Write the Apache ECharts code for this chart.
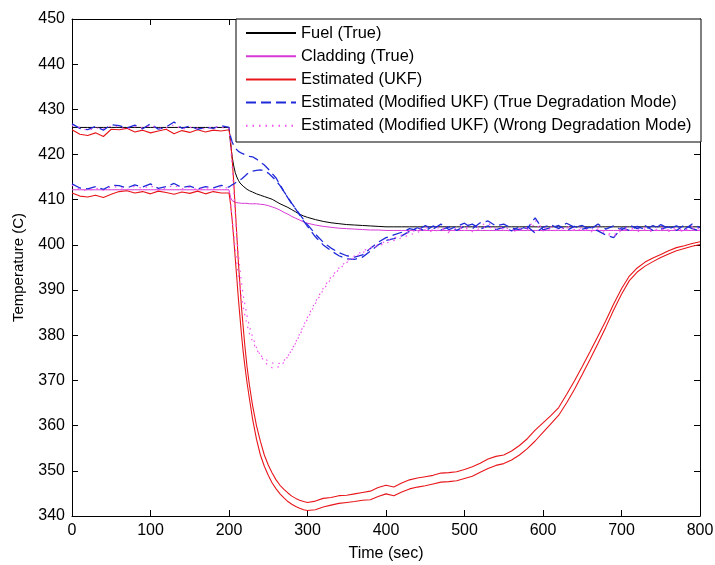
<!DOCTYPE html>
<html>
<head>
<meta charset="utf-8">
<script src="https://cdn.jsdelivr.net/npm/echarts@6/dist/echarts.min.js"></script>
<style>
html,body{margin:0;padding:0;background:#fff;}
#chart{width:715px;height:565px;}
</style>
</head>
<body>
<div id="chart"></div>
<script>
// Time grid (sec)
var T = [0,10,20,30,40,50,60,70,80,90,100,110,120,130,140,150,160,170,180,190,
  200,202,204,206,208,210,212,214,216,218,220,223,226,
  230,235,240,245,250,255,260,265,270,275,280,285,290,295,300,
  310,320,330,340,350,360,370,380,390,400,410,420,430,440,450,460,470,480,490,500,
  510,520,530,540,550,560,570,580,590,600,610,620,630,640,650,660,670,680,690,700,
  710,720,730,740,750,760,770,780,790,800];

var xTicks = {min:0, max:800, step:100};
var yTicks = {min:340, max:450, step:10};

var legendNames = ['Fuel (True)','Cladding (True)','Estimated (UKF)',
  'Estimated (Modified UKF) (True Degradation Mode)',
  'Estimated (Modified UKF) (Wrong Degradation Mode)'];

// Fuel (True)
var fuelTrue = [426,426,426,426,426,426,426,426,426,426,426,426,426,426,426,426,426,426,426,426,
  426,422.5,419.5,417.5,416,415,414.3,413.7,413.3,413,412.7,412.3,412,
  411.7,411.3,411,410.7,410.4,410.1,409.6,409.1,408.7,408.3,407.8,407.3,406.8,406.4,406.1,
  405.6,405.2,404.9,404.7,404.5,404.4,404.3,404.2,404.1,404,404,404,404,404,404,404,404,404,404,404,
  404,404,404,404,404,404,404,404,404,404,404,404,404,404,404,404,404,404,404,404,
  404,404,404,404,404,404,404,404,404,404];

// Cladding (True)
var cladTrue = [412.2,412.2,412.2,412.2,412.2,412.2,412.2,412.2,412.2,412.2,412.2,412.2,412.2,412.2,412.2,412.2,412.2,412.2,412.2,412.2,
  412.2,410.5,409.8,409.5,409.4,409.3,409.3,409.2,409.2,409.2,409.2,409.2,409.1,
  409.1,409.1,409,408.9,408.7,408.4,408.1,407.7,407.2,406.8,406.3,405.9,405.5,405.1,404.8,
  404.4,404.1,403.9,403.7,403.6,403.5,403.4,403.3,403.3,403.2,403.2,403.2,403.2,403.2,403.2,403.2,403.2,403.2,403.2,403.2,
  403.2,403.2,403.2,403.2,403.2,403.2,403.2,403.2,403.2,403.2,403.2,403.2,403.2,403.2,403.2,403.2,403.2,403.2,403.2,403.2,
  403.2,403.2,403.2,403.2,403.2,403.2,403.2,403.2,403.2,403.2];

// Estimated (UKF) - fuel estimate
var ukfFuel = [425.5,424.5,424.2,424.8,424,425.6,425.5,425.8,425,425.4,424.8,425.2,425.6,424.6,425.3,424.9,425.5,425,425.4,425.2,
  425.5,423,419,414,408,402,396,391,386,382,378,373,369,
  364.5,360,356.5,353.5,351.3,349.5,348,346.8,345.9,345.1,344.4,343.9,343.5,343.2,343,
  343.3,343.9,344.1,344.5,344.6,344.9,345.2,345.5,346.3,346.8,346.4,347.3,348,348.4,348.7,349,349.5,349.6,349.8,350.3,
  350.9,351.7,352.6,353.2,353.5,354.4,355.6,357.1,359,360.6,362.2,364,366.9,369.9,373.1,376.4,379.8,383.2,386.9,390.3,
  393.1,394.9,396.2,397.1,397.9,398.7,399.4,399.8,400.3,400.7];

// Estimated (UKF) - cladding estimate
var ukfClad = [411.5,410.8,410.6,411,410.5,411.2,411.8,412,411.5,411.8,411.3,411.9,411.6,411.2,411.7,411.4,411.9,411.3,411.8,411.5,
  411.5,409,405.5,401.5,397,392.5,388,384,380,376.5,373.5,369.5,366,
  361.5,357,353.5,351,349,347.3,346,344.9,344,343.2,342.6,342.1,341.7,341.4,341.2,
  341.4,342,342.4,342.8,343,343.2,343.5,343.6,344.3,344.9,344.5,345.3,346,346.4,346.7,347.1,347.5,347.6,347.8,348.3,
  348.8,349.7,350.5,351.2,351.6,352.4,353.5,354.9,356.6,358.5,360.4,362.3,365,368,371.3,374.7,378.2,381.8,385.6,389.1,
  392.1,394,395.3,396.3,397.2,398,398.7,399.2,399.7,400.1];

// Estimated (Modified UKF) (True Degradation Mode) - fuel
var mTrueFuel = [426.8,425.8,425.5,426.2,425.4,426.6,426.4,425.9,426.5,425.7,426.8,425.6,426.1,427.2,425.8,426.3,425.6,426,425.8,426.4,
  426,424,422.8,422,421.4,421,420.7,420.5,420.3,420.1,420,419.8,419.6,
  419.5,419,418.3,417.7,416.8,415.8,414.8,413.3,411.8,410.5,409.2,408,406.8,405.6,404.5,
  402.4,400.6,399.3,398.3,397.6,397.3,397.8,399.2,400.6,401.6,402.2,402.8,403.6,403.2,404.3,403.5,404.6,403.4,404.1,404.8,
  403.6,404.9,405.3,404.2,404.6,403.7,403.4,404.1,402.6,403.9,404.5,403.6,404.8,403.9,404.3,403.4,404.6,403.5,404.2,403.3,
  404.4,403.6,404.3,403.2,404.5,403.6,404.2,403.4,404.6,403.8];

// Estimated (Modified UKF) (True Degradation Mode) - cladding
var mTrueClad = [413.5,412.6,412.4,412.9,412.3,413.2,413.1,412.6,413.3,412.8,413.5,412.5,412.9,413.6,412.7,413,412.4,412.9,412.6,413.2,
  412.8,413,413.3,413.5,413.7,414,414.2,414.4,414.6,414.9,415.2,415.7,416,
  416.3,416.5,416.6,416.4,415.9,415.1,414.2,413.1,411.8,410.4,409.1,407.9,406.6,405.3,404.1,
  401.8,400,398.7,397.6,396.9,396.8,397.3,398.6,400,401,401.4,402,403,403.8,403.1,404.2,403.3,404,403.2,404.1,
  404.6,403.5,404.2,403.4,403.9,403.1,404,403.6,406,403.3,403.8,404.3,403.2,404.1,403.5,403.9,403.1,402.2,401.6,403.8,
  403.2,404.1,403.4,404.3,403.5,404,403.2,404.4,403.6,403.1];

// Estimated (Modified UKF) (Wrong Degradation Mode) - fuel
var mWrongFuel = [426.4,426,425.3,425.9,425.7,426.3,426.1,425.6,426.2,425.9,426.4,425.8,425.9,426.6,425.6,426,425.8,425.7,426.1,426,
  425.8,422,417.5,412,406.5,402,398,394.5,391.5,389,387,384.3,382,
  379.7,377.3,375.5,374.2,373.3,372.8,372.8,373.2,374,375.3,376.8,378.5,380.3,382.2,384,
  387.4,390.4,392.9,394.9,396.4,397.6,398.6,399.4,400.1,400.8,401.5,402.2,402.8,403.3,403.9,403.2,404.1,403,403.7,404.3,
  403.1,404.4,404.8,403.6,404,403.2,403.6,403.8,405.4,403.5,404,403.1,404.2,403.4,403.8,403,403.9,402.8,402.1,403.6,
  403.9,403.2,403.8,403,404,403.3,403.7,403.1,404.1,403.5];

// Estimated (Modified UKF) (Wrong Degradation Mode) - cladding
var mWrongClad = [413.2,412.3,412,412.6,412.1,412.9,412.8,412.2,413,412.5,413.1,412.2,412.6,413.2,412.4,412.8,412.2,412.7,412.3,412.9,
  412.5,409.5,406,402.5,399,396,393.2,390.7,388.4,386.4,384.6,382.3,380.4,
  378.6,376.9,375.6,374.8,374.3,373.9,373.7,373.8,374.4,375.4,376.7,378.3,380,381.8,383.6,
  387,390,392.5,394.6,396.1,397.3,398.3,399.1,399.8,400.4,401,401.6,402.2,402.8,403.4,402.8,403.6,402.7,403.4,403.9,
  402.9,403.7,404.1,403.2,403.6,402.9,403.3,403.4,404.6,403.1,403.6,402.9,403.8,403.1,403.5,402.8,403.5,402.5,401.8,403.2,
  403.5,402.9,403.4,402.8,403.6,403,403.4,402.9,403.7,403.2];

function pairs(v){ return T.map(function(t,i){ return [t, v[i]]; }); }

var FONT = 'Liberation Sans, Arial, Helvetica, sans-serif';
var C_BLACK = '#000000', C_MAG = '#d63ad6', C_RED = '#e8161a', C_BLUE = '#1f2ad8', C_MAGDOT = '#f050f0';

function line(name, data, color, type, width){
  return {
    name: name, type: 'line', data: pairs(data), symbol: 'none', showSymbol: false,
    lineStyle: {color: color, width: width, type: type}, itemStyle: {color: color},
    z: 2, animation: false, silent: true
  };
}

var series = [
  line(legendNames[0], fuelTrue, C_BLACK, 'solid', 1),
  line(legendNames[1], cladTrue, C_MAG, 'solid', 1),
  line(legendNames[2], ukfFuel, C_RED, 'solid', 1.1),
  line(legendNames[2], ukfClad, C_RED, 'solid', 1.1),
  line(legendNames[3], mTrueFuel, C_BLUE, [10,5], 1.3),
  line(legendNames[3], mTrueClad, C_BLUE, [10,5], 1.3),
  line(legendNames[4], mWrongFuel, C_MAGDOT, [1.5,5], 1.2),
  line(legendNames[4], mWrongClad, C_MAGDOT, [1.5,5], 1.2)
];

var axisCommon = {
  type: 'value',
  axisLine: {show: true, onZero: false, lineStyle: {color: '#000', width: 1}},
  axisTick: {show: true, inside: true, length: 6, lineStyle: {color: '#000', width: 1}},
  splitLine: {show: false}
};

var chart = echarts.init(document.getElementById('chart'), null, {renderer: 'canvas'});
chart.setOption({
  animation: false,
  backgroundColor: '#fff',
  grid: {left: 72, right: 15, top: 19, bottom: 49, containLabel: false, outerBoundsMode: 'none'},
  xAxis: [
    Object.assign({}, axisCommon, {
      position: 'bottom', min: xTicks.min, max: xTicks.max, interval: xTicks.step,
      axisLabel: {color: '#000', fontSize: 16, fontFamily: FONT, margin: 7},
      name: 'Time (sec)', nameLocation: 'middle', nameGap: 30,
      nameTextStyle: {color: '#000', fontSize: 16, fontFamily: FONT}
    }),
    Object.assign({}, axisCommon, {
      position: 'top', min: xTicks.min, max: xTicks.max, interval: xTicks.step,
      axisLabel: {show: false}
    })
  ],
  yAxis: [
    Object.assign({}, axisCommon, {
      position: 'left', min: yTicks.min, max: yTicks.max, interval: yTicks.step,
      axisLabel: {color: '#000', fontSize: 16, fontFamily: FONT, margin: 7},
      name: 'Temperature (C)', nameLocation: 'middle', nameGap: 46, nameRotate: 90,
      nameTextStyle: {color: '#000', fontSize: 15, fontFamily: FONT}
    }),
    Object.assign({}, axisCommon, {
      position: 'right', min: yTicks.min, max: yTicks.max, interval: yTicks.step,
      axisLabel: {show: false}
    })
  ],
  graphic: [{
    type: 'rect', z: 3, silent: true,
    shape: {x: 236, y: 19, width: 465, height: 123},
    style: {fill: '#fff', stroke: '#000', lineWidth: 1}
  }],
  legend: {
    data: legendNames, orient: 'vertical', left: 245, top: 25,
    itemWidth: 50, itemHeight: 14, itemGap: 7.2, padding: 0, z: 5,
    itemStyle: {opacity: 0},
    textStyle: {color: '#000', fontSize: 16.4, fontFamily: FONT},
    selectedMode: false
  },
  series: series
});
</script>
</body>
</html>
